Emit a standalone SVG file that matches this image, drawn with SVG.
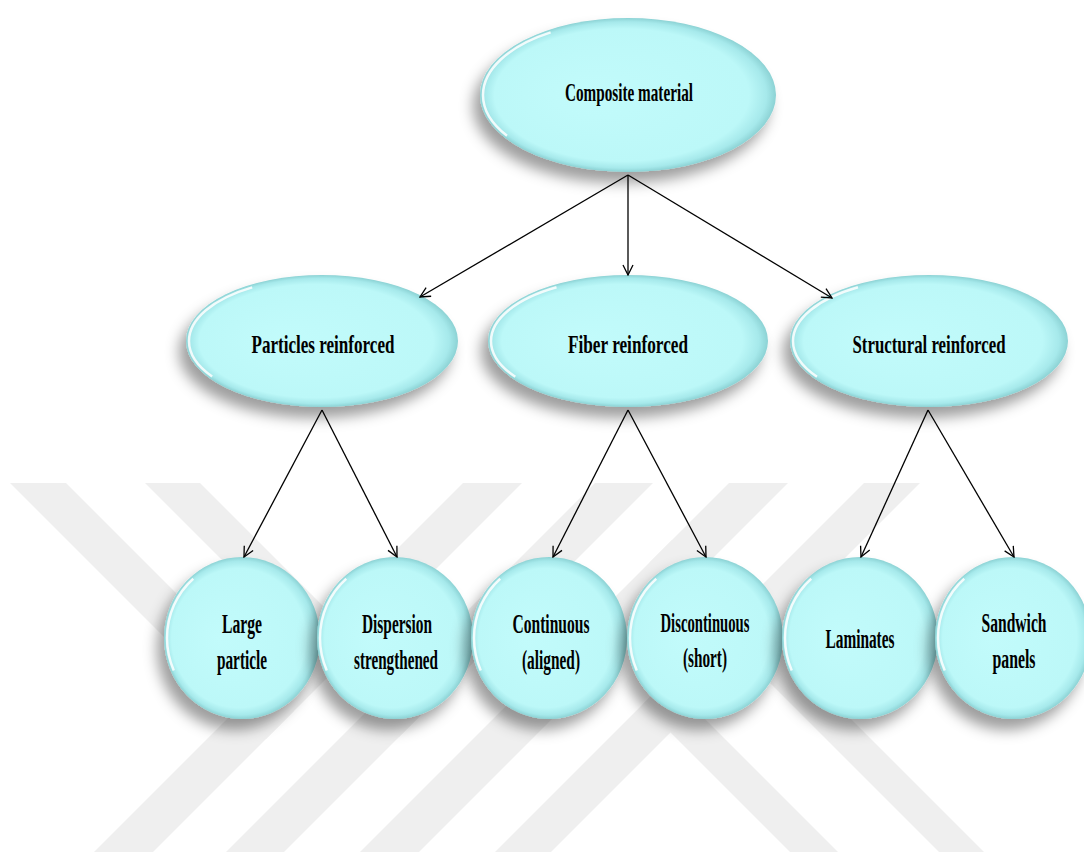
<svg xmlns="http://www.w3.org/2000/svg" width="1084" height="852" viewBox="0 0 1084 852">
<style>
.wm{fill:#EFEFEF}
.nd{fill:url(#g);filter:url(#sh)}
.hl{fill:none;stroke:#FFFFFF;stroke-width:2.5;stroke-dasharray:0 155 75 130;opacity:.85}
.t{font-family:"Liberation Serif","Times New Roman",serif;font-weight:bold;fill:#000;text-anchor:middle;font-size:27px}
.t2{font-family:"Liberation Serif","Times New Roman",serif;font-weight:bold;fill:#000;text-anchor:middle;font-size:26px}
.c{fill:none;stroke:#000;stroke-width:1.3;marker-end:url(#ah)}
</style>
<defs>
<radialGradient id="g" cx="0.5" cy="0.5" r="0.5" fx="0.35" fy="0.5">
<stop offset="0" stop-color="#C2FBFB"/>
<stop offset="0.86" stop-color="#BCF8F8"/>
<stop offset="0.95" stop-color="#A6E9EB"/>
<stop offset="1" stop-color="#8CD2D4"/>
</radialGradient>
<filter id="sh" x="-30%" y="-30%" width="160%" height="175%">
<feGaussianBlur in="SourceAlpha" stdDeviation="7"/>
<feOffset dx="-7" dy="11" result="b"/>
<feFlood flood-color="#000" flood-opacity="0.38"/>
<feComposite in2="b" operator="in"/>
<feMerge><feMergeNode/><feMergeNode in="SourceGraphic"/></feMerge>
</filter>
<marker id="ah" viewBox="0 0 12 12" refX="11" refY="6" markerWidth="12" markerHeight="12" markerUnits="userSpaceOnUse" orient="auto">
<path d="M1,1 L11,6 L1,11" fill="none" stroke="#000" stroke-width="1.3"/>
</marker>
</defs>
<rect width="1084" height="852" fill="#FFFFFF"/>
<g id="watermark">
<polygon class="wm" points="463,483 522,483 105,900 46,900"/>
<polygon class="wm" points="595,483 653,483 236,900 178,900"/>
<polygon class="wm" points="729,483 788,483 371,900 312,900"/>
<polygon class="wm" points="864,483 920,483 503,900 447,900"/>
<polygon class="wm" points="10,483 66,483 294,711 266,739"/>
<polygon class="wm" points="145,483 200,483 426.5,709.5 399,737"/>
<polygon class="wm" points="838,900 886,900 666.5,680.5 642.5,704.5"/>
<polygon class="wm" points="987,900 1032,900 672,540 649.5,562.5"/>
</g>
<g id="composite">
<ellipse class="nd" cx="628" cy="95" rx="148" ry="77"/>
<ellipse class="hl" cx="628" cy="95" rx="145" ry="74" pathLength="360"/>
<text class="t2" x="629" y="101" textLength="128" lengthAdjust="spacingAndGlyphs">Composite material</text>
</g>
<g id="particles">
<ellipse class="nd" cx="322" cy="341" rx="136" ry="66"/>
<ellipse class="hl" cx="322" cy="341" rx="133" ry="63" pathLength="360"/>
<text class="t2" x="323" y="353" textLength="143" lengthAdjust="spacingAndGlyphs">Particles reinforced</text>
</g>
<g id="fiber">
<ellipse class="nd" cx="628" cy="341" rx="140" ry="66"/>
<ellipse class="hl" cx="628" cy="341" rx="137" ry="63" pathLength="360"/>
<text class="t2" x="628" y="353" textLength="120" lengthAdjust="spacingAndGlyphs">Fiber reinforced</text>
</g>
<g id="structural">
<ellipse class="nd" cx="929" cy="341" rx="139" ry="66"/>
<ellipse class="hl" cx="929" cy="341" rx="136" ry="63" pathLength="360"/>
<text class="t2" x="929" y="353" textLength="153" lengthAdjust="spacingAndGlyphs">Structural reinforced</text>
</g>
<g id="large">
<ellipse class="nd" cx="242" cy="638" rx="78" ry="81"/>
<ellipse class="hl" cx="242" cy="638" rx="75" ry="78" pathLength="360"/>
<text class="t" x="242" y="633" textLength="40" lengthAdjust="spacingAndGlyphs">Large</text>
<text class="t" x="242" y="669" textLength="50" lengthAdjust="spacingAndGlyphs">particle</text>
</g>
<g id="dispersion">
<ellipse class="nd" cx="395" cy="638" rx="78" ry="81"/>
<ellipse class="hl" cx="395" cy="638" rx="75" ry="78" pathLength="360"/>
<text class="t" x="397" y="633" textLength="70" lengthAdjust="spacingAndGlyphs">Dispersion</text>
<text class="t" x="396" y="669" textLength="84" lengthAdjust="spacingAndGlyphs">strengthened</text>
</g>
<g id="continuous">
<ellipse class="nd" cx="549" cy="638" rx="78" ry="81"/>
<ellipse class="hl" cx="549" cy="638" rx="75" ry="78" pathLength="360"/>
<text class="t" x="551" y="633" textLength="77" lengthAdjust="spacingAndGlyphs">Continuous</text>
<text class="t" x="551" y="669" textLength="58" lengthAdjust="spacingAndGlyphs">(aligned)</text>
</g>
<g id="discontinuous">
<ellipse class="nd" cx="705" cy="638" rx="78" ry="81"/>
<ellipse class="hl" cx="705" cy="638" rx="75" ry="78" pathLength="360"/>
<text class="t" x="705" y="632" textLength="89" lengthAdjust="spacingAndGlyphs">Discontinuous</text>
<text class="t" x="705" y="667" textLength="44" lengthAdjust="spacingAndGlyphs">(short)</text>
</g>
<g id="laminates">
<ellipse class="nd" cx="860" cy="638" rx="78" ry="81"/>
<ellipse class="hl" cx="860" cy="638" rx="75" ry="78" pathLength="360"/>
<text class="t" x="860" y="648" textLength="69" lengthAdjust="spacingAndGlyphs">Laminates</text>
</g>
<g id="sandwich">
<ellipse class="nd" cx="1013" cy="638" rx="78" ry="81"/>
<ellipse class="hl" cx="1013" cy="638" rx="75" ry="78" pathLength="360"/>
<text class="t" x="1014" y="632" textLength="65" lengthAdjust="spacingAndGlyphs">Sandwich</text>
<text class="t" x="1014" y="668" textLength="43" lengthAdjust="spacingAndGlyphs">panels</text>
</g>
<g id="connectors">
<path class="c" d="M628,175 L420,297"/>
<path class="c" d="M628,175 L628,275"/>
<path class="c" d="M628,175 L832,298"/>
<path class="c" d="M322,410 L244,557"/>
<path class="c" d="M322,410 L397,557"/>
<path class="c" d="M628,410 L553,557"/>
<path class="c" d="M628,410 L706,557"/>
<path class="c" d="M928,410 L861,557"/>
<path class="c" d="M928,410 L1014,557"/>
</g>
</svg>
